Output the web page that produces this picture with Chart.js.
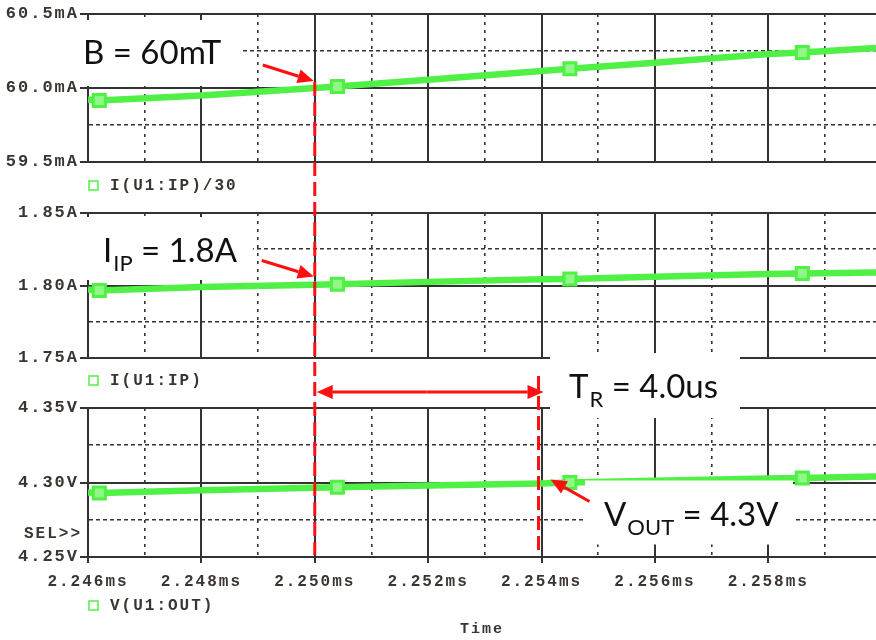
<!DOCTYPE html>
<html>
<head>
<meta charset="utf-8">
<title>PSpice trace</title>
<script src="https://cdn.jsdelivr.net/npm/chart.js@4.4.1/dist/chart.umd.min.js"></script>
<style>
  html, body { margin: 0; padding: 0; background: #fff; }
  #wrap { position: relative; width: 876px; height: 640px; }
  #wrap canvas { position: absolute; left: 0; top: 0; }
</style>
</head>
<body>
<div id="wrap">
  <canvas id="c1" width="876" height="640"></canvas>
  <canvas id="c2" width="876" height="640"></canvas>
  <canvas id="c3" width="876" height="640"></canvas>
</div>
<script>
// sample times (ms) and the three traces
const timeMs = [2.2460, 2.2462, 2.2480, 2.2500, 2.2504, 2.2520, 2.2540, 2.2545, 2.2560, 2.2580, 2.2586, 2.2599];
const markerTimes = [2.2462, 2.2504, 2.2545, 2.2586];
const ipDiv30 = [59.92, 59.915, 59.95, 60.00, 60.01, 60.055, 60.115, 60.13, 60.17, 60.23, 60.24, 60.27]; // mA
const ipAmps = [1.7972, 1.7965, 1.7990, 1.8005, 1.8008, 1.8025, 1.8043, 1.8045, 1.8060, 1.8080, 1.8083, 1.8090]; // A
const voutVolts = [4.2933, 4.2930, 4.2948, 4.2965, 4.2968, 4.2980, 4.2993, 4.3000, 4.3012, 4.3027, 4.3030, 4.3040]; // V

const seriesLabels = ["I(U1:IP)/30", "I(U1:IP)", "V(U1:OUT)"];
const yUnits = ["mA", "A", "V"];
const yDecimals = [1, 2, 2];
const yMin = [59.5, 1.75, 4.25];
const yMax = [60.5, 1.85, 4.35];
const yStep = [0.25, 0.025, 0.025];
const timeMin = 2.246;
const timeMax = 2.2599;
const timeStep = 0.001;

// annotation values
const markTimes = [2.250, 2.254];
const markLevels = [60.0, 1.80, 4.30];

const GREEN = "#50f046";
const GRID = "#333333";
const TEXT = "#3a3530";
const RED = "#ff1010";
const MONO = "bold 16px 'Liberation Mono'";
const SANS = "'Lato', 'Open Sans', sans-serif";

// panel layout (pixels)
const panelTop = [14, 213, 408];
const panelBottom = [162, 358, 557];
const legendGap = [24, 23, 49];

const charts = [];

function isMajor(c) {
  return c.index % 2 === 0;
}

function drawArrow(ctx, x1, y1, x2, y2, head) {
  const ang = Math.atan2(y2 - y1, x2 - x1);
  const bx = x2 - head * Math.cos(ang);
  const by = y2 - head * Math.sin(ang);
  ctx.beginPath();
  ctx.moveTo(x1, y1);
  ctx.lineTo(bx, by);
  ctx.stroke();
  ctx.beginPath();
  ctx.moveTo(x2, y2);
  ctx.lineTo(bx + 7 * Math.sin(ang), by - 7 * Math.cos(ang));
  ctx.lineTo(bx - 7 * Math.sin(ang), by + 7 * Math.cos(ang));
  ctx.closePath();
  ctx.fill();
}

// main text + subscript + rest, starting at x on baseline y
function drawSubText(ctx, x, y, main, sub, rest) {
  ctx.font = "33px " + SANS;
  ctx.fillText(main, x, y);
  x += ctx.measureText(main).width + 1;
  ctx.font = "22px " + SANS;
  ctx.fillText(sub, x, y + 9);
  x += ctx.measureText(sub).width;
  ctx.font = "33px " + SANS;
  ctx.fillText(rest, x, y);
}

function drawAnnotations(chart) {
  const ctx = chart.ctx;
  const xs = chart.scales.x;
  const xA = xs.getPixelForValue(markTimes[0]);
  const xB = xs.getPixelForValue(markTimes[1]) - 3;
  const y1 = charts[0].scales.y.getPixelForValue(markLevels[0]);
  const y2 = charts[1].scales.y.getPixelForValue(markLevels[1]);
  const y3 = chart.scales.y.getPixelForValue(markLevels[2]);
  const bottom = chart.chartArea.bottom - 2;

  ctx.save();
  ctx.letterSpacing = "0px";

  // white label boxes over the grid
  ctx.fillStyle = "#ffffff";
  ctx.fillRect(80, 20, 162, 66);
  ctx.fillRect(80, 217, 173, 63);
  ctx.fillRect(550, 353, 190, 65);
  ctx.fillRect(585, y3 - 2, 208, 64);

  // red dashed cursors
  ctx.strokeStyle = RED;
  ctx.fillStyle = RED;
  ctx.lineWidth = 3;
  ctx.setLineDash([14, 6]);
  ctx.beginPath();
  ctx.moveTo(xA, y1 - 6);
  ctx.lineTo(xA, bottom);
  ctx.moveTo(xB, 376);
  ctx.lineTo(xB, bottom);
  ctx.stroke();
  ctx.setLineDash([]);

  // arrows
  drawArrow(ctx, xA - 52, y1 - 23, xA - 1, y1 - 7, 16);
  drawArrow(ctx, xA - 53, y2 - 25, xA - 1, y2 - 9, 16);
  drawArrow(ctx, xB + 51, y3 + 19, xB + 12, y3 - 3, 16);
  drawArrow(ctx, (xA + xB) / 2, 392, xA + 2, 392, 16);
  drawArrow(ctx, (xA + xB) / 2, 392, xB + 5, 392, 16);

  // texts
  ctx.fillStyle = "#111111";
  ctx.textAlign = "left";
  ctx.textBaseline = "alphabetic";
  ctx.font = "33px " + SANS;
  ctx.fillText("B = 60mT", 83, 64);
  drawSubText(ctx, 103, 262, "I", "IP", " = 1.8A");
  drawSubText(ctx, 569, 398, "T", "R", " = 4.0us");
  drawSubText(ctx, 604, 526, "V", "OUT", " = 4.3V");
  ctx.restore();
}

function panelPlugin(i) {
  return {
    id: "panel" + i,
    beforeDraw(chart) {
      chart.ctx.letterSpacing = "2px";
    },
    afterDraw(chart) {
      const ctx = chart.ctx;
      const a = chart.chartArea;
      ctx.save();
      const ly = a.bottom + legendGap[i];
      ctx.strokeStyle = GREEN;
      ctx.lineWidth = 1.5;
      ctx.strokeRect(a.left + 1, ly - 5, 9, 9);
      ctx.fillStyle = TEXT;
      ctx.font = MONO;
      ctx.textAlign = "left";
      ctx.textBaseline = "middle";
      ctx.fillText(chart.data.datasets[0].label, a.left + 22, ly);
      if (i === 2) {
        ctx.textAlign = "right";
        ctx.fillText("SEL>>", a.left - 6, 534);
      }
      ctx.restore();
      if (i === 2) drawAnnotations(chart);
    },
  };
}

const seriesValues = [ipDiv30, ipAmps, voutVolts];

for (let i = 0; i < 3; i++) {
  const last = i === 2;
  const ctx = document.getElementById("c" + (i + 1)).getContext("2d");
  const chart = new Chart(ctx, {
    type: "line",
    data: {
      datasets: [
        {
          label: seriesLabels[i],
          data: timeMs.map((t, k) => ({ x: t, y: seriesValues[i][k] })),
          borderColor: GREEN,
          borderWidth: 6.5,
          tension: 0,
          pointStyle: "rect",
          pointRadius: (c) => (markerTimes.includes(timeMs[c.dataIndex]) ? 8.5 : 0),
          pointBackgroundColor: "#8ff886",
          pointBorderColor: GREEN,
          pointBorderWidth: 3,
        },
      ],
    },
    options: {
      responsive: false,
      animation: false,
      events: [],
      layout: {
        padding: { top: panelTop[i], bottom: last ? 0 : 640 - panelBottom[i], left: 0, right: 0 },
      },
      plugins: {
        legend: { display: false },
        tooltip: { enabled: false },
      },
      scales: {
        x: {
          type: "linear",
          min: timeMin,
          max: timeMax,
          afterFit: (s) => {
            s.height = last ? 640 - panelBottom[i] : 0;
          },
          ticks: {
            display: last,
            stepSize: timeStep,
            includeBounds: false,
            autoSkip: false,
            maxRotation: 0,
            minRotation: 0,
            maxTicksLimit: 100,
            padding: 9,
            color: TEXT,
            font: { family: "'Liberation Mono'", size: 16, weight: "bold" },
            callback: (v, idx) => (idx % 2 === 0 ? v.toFixed(3) + "ms" : ""),
          },
          grid: {
            color: GRID,
            lineWidth: (c) => (isMajor(c) ? 2 : 1.6),
            drawTicks: last,
            tickLength: 6,
            tickWidth: 2,
            tickBorderDash: [],
            tickColor: (c) => (isMajor(c) ? GRID : "rgba(0,0,0,0)"),
          },
          border: {
            display: true,
            color: GRID,
            width: 2,
            dash: (c) => (c.tick && c.index % 2 === 1 ? [3, 5] : []),
          },
          title: {
            display: last,
            text: "Time",
            color: TEXT,
            font: { family: "'Liberation Mono'", size: 15, weight: "bold" },
            padding: { top: 0, bottom: 2 },
          },
        },
        y: {
          min: yMin[i],
          max: yMax[i],
          afterFit: (s) => {
            s.width = 88;
          },
          ticks: {
            stepSize: yStep[i],
            padding: 1,
            color: TEXT,
            font: { family: "'Liberation Mono'", size: 17, weight: "bold" },
            callback: (v, idx) => (idx % 2 === 0 ? v.toFixed(yDecimals[i]) + yUnits[i] : ""),
          },
          grid: {
            color: GRID,
            lineWidth: (c) => (isMajor(c) ? 2 : 1.6),
            tickLength: 8,
            tickWidth: 2,
            tickBorderDash: [],
            tickColor: (c) => (isMajor(c) ? GRID : "rgba(0,0,0,0)"),
          },
          border: {
            display: true,
            color: GRID,
            width: 2,
            dash: (c) => (c.tick && c.index % 2 === 1 ? [4, 3] : []),
          },
        },
      },
    },
    plugins: [panelPlugin(i)],
  });
  charts.push(chart);
}
</script>
</body>
</html>
